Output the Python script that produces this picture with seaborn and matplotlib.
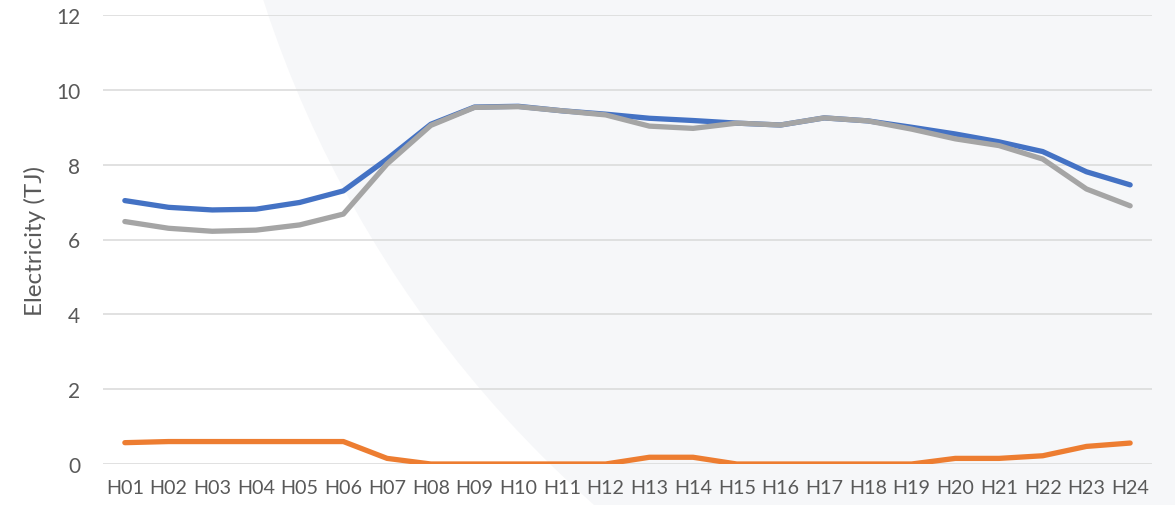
import matplotlib
matplotlib.use("Agg")
import matplotlib.pyplot as plt
from matplotlib.patches import Circle
from matplotlib.transforms import IdentityTransform
import seaborn as sns
import pandas as pd

# ── Data ────────────────────────────────────────────────────
hours = [f"H{i:02d}" for i in range(1, 25)]
series_a = [7.04, 6.86, 6.79, 6.81, 6.99, 7.30, 8.15, 9.08, 9.54, 9.56, 9.44, 9.35,
            9.24, 9.18, 9.11, 9.06, 9.25, 9.17, 9.00, 8.82, 8.61, 8.35, 7.81, 7.46]
series_b = [0.57, 0.60, 0.60, 0.60, 0.60, 0.60, 0.15, 0.0, 0.0, 0.0, 0.0, 0.0,
            0.18, 0.18, 0.0, 0.0, 0.0, 0.0, 0.0, 0.15, 0.15, 0.22, 0.47, 0.56]
series_c = [6.48, 6.30, 6.22, 6.25, 6.39, 6.68, 8.02, 9.05, 9.53, 9.55, 9.44, 9.33,
            9.03, 8.97, 9.11, 9.06, 9.25, 9.17, 8.95, 8.69, 8.51, 8.15, 7.35, 6.90]
series_names = ["Series 1", "Series 2", "Series 3"]
colors = ["#4472C4", "#ED7D31", "#A5A5A5"]
y_ticks = [0, 2, 4, 6, 8, 10, 12]

df = pd.DataFrame({
    "hour": hours * 3,
    "value": series_a + series_b + series_c,
    "series": [s for s in series_names for _ in hours],
})

# ── Style ───────────────────────────────────────────────────
sns.set_theme(style="white")
plt.rcParams["font.family"] = ["Lato", "DejaVu Sans"]
text_color = "#595959"

W, H = 1175, 506
fig = plt.figure(figsize=(W / 100, H / 100), dpi=100)
fig.patch.set_facecolor("white")

# decorative background disc
fig.add_artist(Circle((1350, H + 350), 1142, transform=IdentityTransform(),
                      facecolor="#F6F7F9", edgecolor="none", zorder=0))

ax = fig.add_axes([103 / W, 1 - 465 / H, (1152 - 103) / W, (465 - 16) / H])
ax.set_facecolor("none")
ax.set_zorder(1)

sns.lineplot(data=df, x="hour", y="value", hue="series", hue_order=series_names,
             palette=colors, linewidth=3.8, sort=False, legend=False,
             solid_capstyle="round", ax=ax)

ax.set_xlim(-0.5, len(hours) - 0.5)
ax.set_ylim(0, 12)
ax.set_yticks(y_ticks)
ax.set_xticks(range(len(hours)))
ax.set_xticklabels(hours)
ax.grid(axis="y", color="#D9D9D9", linewidth=1.1)
ax.set_axisbelow(True)
for s in ax.spines.values():
    s.set_visible(False)
ax.tick_params(axis="both", length=0, colors=text_color)
ax.tick_params(axis="x", labelsize=14.2, pad=11)
ax.tick_params(axis="y", labelsize=15, pad=16.5)
ax.set_xlabel("")
ax.set_ylabel("Electricity (TJ)", fontsize=17.5, color=text_color)
ax.yaxis.set_label_coords(-57 / 1049, 0.5)

fig.savefig("out.png", dpi=100)
